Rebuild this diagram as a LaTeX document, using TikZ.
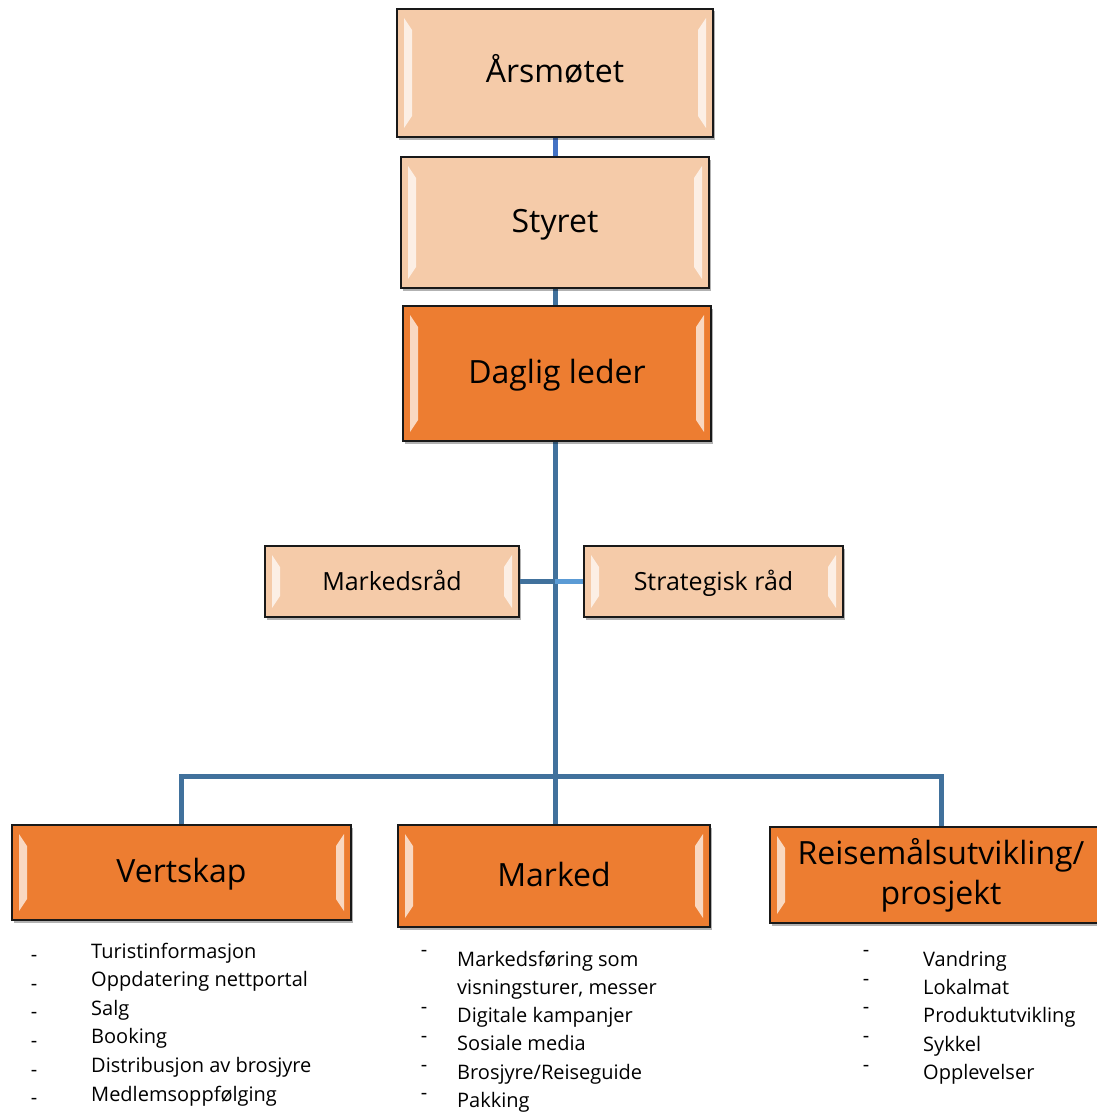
\documentclass[tikz,border=0pt]{standalone}
\usepackage{fontspec}
\setmainfont{Open Sans}
\usetikzlibrary{calc,shadows}
\definecolor{lightor}{HTML}{F5CBA9}
\definecolor{darkor}{HTML}{ED7D31}
\definecolor{lnA}{HTML}{41719C}
\definecolor{lnB}{HTML}{4472C4}
\definecolor{lnC}{HTML}{5B9BD5}
\tikzset{
  bev/.style={draw=black!90, line width=1.6pt, rectangle, align=center, inner sep=0pt,
    drop shadow={shadow xshift=2pt,shadow yshift=-2.5pt,opacity=0.3,fill=black},
    path picture={
      \fill[white,opacity=0.7]
        ($(path picture bounding box.north west)+(7pt,-9pt)$) --
        ($(path picture bounding box.north west)+(15pt,-21pt)$) --
        ($(path picture bounding box.south west)+(15pt,21pt)$) --
        ($(path picture bounding box.south west)+(7pt,9pt)$) -- cycle;
      \fill[white,opacity=0.7]
        ($(path picture bounding box.north east)+(-7pt,-9pt)$) --
        ($(path picture bounding box.north east)+(-15pt,-21pt)$) --
        ($(path picture bounding box.south east)+(-15pt,21pt)$) --
        ($(path picture bounding box.south east)+(-7pt,9pt)$) -- cycle;
    }},
  big/.style={font=\fontsize{32}{40}\selectfont, text height=23pt, text depth=3pt},
  mid/.style={font=\fontsize{25}{30}\selectfont, text height=18pt, text depth=1pt},
  conn/.style={draw=lnA, line width=5pt},
  item/.style={anchor=base west, inner sep=0pt, font=\fontsize{20}{24}\selectfont},
  dsh/.style={anchor=base, inner sep=0pt, font=\fontsize{20}{24}\selectfont},
}
\begin{document}
\begin{tikzpicture}[x=1pt,y=-1pt]
\useasboundingbox (0,0) rectangle (1096,1113);
\fill[white] (0,0) rectangle (1096,1113);
% coordinates
\coordinate (hub) at (555,776);
% connectors first
\coordinate (aarsS) at (555,137);
\coordinate (styN) at (555,157);
\draw[conn, draw=lnB] (aarsS) -- (styN);
\coordinate (styS) at (555,288);
\coordinate (dagN) at (555,306);
\draw[conn] (styS) -- (dagN);
\coordinate (dagS) at (555,441);
\draw[conn] (dagS) -- (hub);
% boxes
\node[bev, big, fill=lightor, minimum width=316pt, minimum height=128pt] (aars) at (555,73) {Årsmøtet};
\node[bev, big, fill=lightor, minimum width=308pt, minimum height=131pt] (styret) at (555,222.5) {Styret};
\node[bev, big, fill=darkor, minimum width=308pt, minimum height=135pt] (daglig) at (557,373.5) {Daglig leder};
\node[bev, mid, fill=lightor, minimum width=254pt, minimum height=71pt] (mrad) at (392,581.5) {Markedsråd};
\node[bev, mid, fill=lightor, minimum width=259pt, minimum height=71pt] (srad) at (713.5,581.5) {Strategisk råd};
\draw[conn] (mrad.east) -- (mrad.east -| hub);
\draw[conn, draw=lnC] (srad.west -| hub) -- (srad.west);
\node[bev, big, fill=darkor, minimum width=339pt, minimum height=95pt] (vert) at (181.5,872.5) {Vertskap};
\node[bev, big, fill=darkor, minimum width=312pt, minimum height=102pt] (marked) at (554,876) {Marked};
\node[bev, fill=darkor, minimum width=342pt, minimum height=96pt, font=\fontsize{32}{40}\selectfont] (reis) at (941,875) {Reisemålsutvikling/\\prosjekt};
\draw[conn, line join=miter] (vert.north) -- (vert.north |- hub) -- (reis.north |- hub) -- (reis.north);
\draw[conn] (hub) -- (hub |- marked.north);
% Vertskap list
\foreach \t [count=\i from 0] in {Turistinformasjon,Oppdatering nettportal,Salg,Booking,Distribusjon av brosjyre,Medlemsoppfølging}{
  \node[item] (v\i) at (91,958+28.6*\i) {\t};
  \node[dsh] (vd\i) at (34,961.6+28.6*\i) {-};
}
% Marked list
\node[item] (m0) at (457,966) {Markedsføring som};
\node[item] (m1) at (457,994.5) {visningsturer, messer};
\node[item] (m2) at (457,1022) {Digitale kampanjer};
\node[item] (m3) at (457,1050.5) {Sosiale media};
\node[item] (m4) at (457,1079) {Brosjyre/Reiseguide};
\node[item] (m5) at (457,1107) {Pakking};
\node[dsh] (md0) at (424,956.6) {-};
\node[dsh] (md2) at (424,1013.6) {-};
\node[dsh] (md3) at (424,1042.6) {-};
\node[dsh] (md4) at (424,1071.6) {-};
\node[dsh] (md5) at (424,1099.6) {-};
% Reisemål list
\foreach \t [count=\i from 0] in {Vandring,Lokalmat,Produktutvikling,Sykkel,Opplevelser}{
  \node[item] (r\i) at (923,966+28.4*\i) {\t};
  \node[dsh] (rd\i) at (866,956.6+28.6*\i) {-};
}
\end{tikzpicture}
\end{document}
